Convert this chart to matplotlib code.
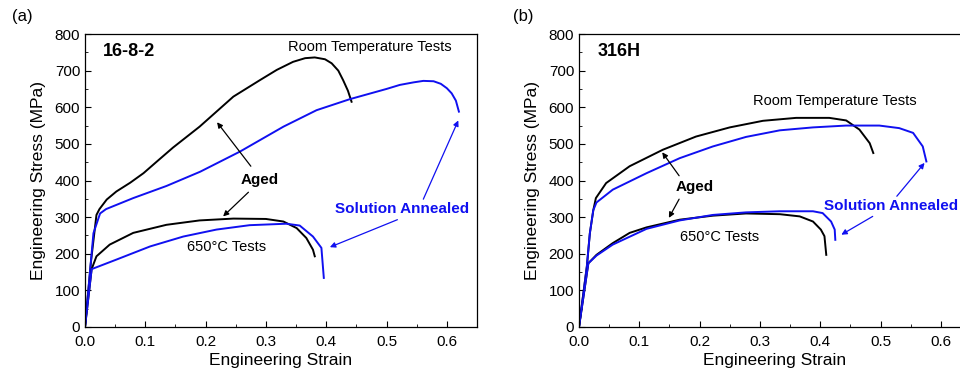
import numpy as np
import matplotlib.pyplot as plt

plt.rcParams['font.family'] = ['Liberation Sans', 'DejaVu Sans']

BLUE = '#1010f0'

# ---- panel (a) 16-8-2 ----
a_rt_aged_x = [0.0, 0.010, 0.019, 0.024, 0.036, 0.052, 0.075, 0.097, 0.12, 0.146, 0.19, 0.246, 0.29, 0.318, 0.345, 0.365, 0.381, 0.398, 0.409, 0.420, 0.428, 0.436, 0.442]
a_rt_aged_y = [0, 180, 306, 322, 348, 370, 394, 420, 453, 490, 547, 629, 674, 702, 724, 734, 736, 731, 720, 700, 674, 645, 615]
a_rt_sa_x = [0.0, 0.014, 0.025, 0.035, 0.080, 0.135, 0.191, 0.257, 0.329, 0.384, 0.439, 0.50, 0.522, 0.545, 0.561, 0.578, 0.590, 0.600, 0.608, 0.615, 0.62]
a_rt_sa_y = [0, 256, 310, 322, 352, 385, 424, 479, 547, 592, 622, 650, 661, 668, 672, 671, 664, 652, 638, 618, 588]
a_ht_aged_x = [0.0, 0.011, 0.019, 0.041, 0.080, 0.135, 0.19, 0.246, 0.30, 0.329, 0.351, 0.367, 0.378, 0.381]
a_ht_aged_y = [0, 158, 193, 225, 257, 279, 291, 296, 295, 288, 270, 243, 211, 193]
a_ht_sa_x = [0.0, 0.011, 0.052, 0.108, 0.163, 0.218, 0.273, 0.334, 0.356, 0.378, 0.392, 0.394, 0.396]
a_ht_sa_y = [0, 158, 184, 220, 247, 266, 278, 282, 277, 247, 216, 175, 134]

# ---- panel (b) 316H ----
b_rt_aged_x = [0.0, 0.013, 0.018, 0.0237, 0.028, 0.045, 0.084, 0.139, 0.194, 0.25, 0.305, 0.36, 0.415, 0.443, 0.465, 0.482, 0.488]
b_rt_aged_y = [0, 165, 256, 319, 352, 393, 439, 484, 520, 545, 563, 571, 571, 564, 539, 502, 475]
b_rt_sa_x = [0.0, 0.013, 0.018, 0.0237, 0.029, 0.056, 0.112, 0.167, 0.222, 0.277, 0.333, 0.388, 0.443, 0.498, 0.531, 0.554, 0.57, 0.576]
b_rt_sa_y = [0, 165, 256, 319, 340, 375, 420, 461, 493, 519, 537, 545, 550, 550, 543, 530, 493, 452]
b_ht_aged_x = [0.0, 0.0155, 0.029, 0.056, 0.084, 0.112, 0.167, 0.222, 0.277, 0.333, 0.366, 0.388, 0.401, 0.407, 0.41]
b_ht_aged_y = [0, 174, 197, 229, 257, 272, 293, 304, 310, 308, 302, 288, 266, 248, 197]
b_ht_sa_x = [0.0, 0.0155, 0.029, 0.056, 0.112, 0.167, 0.222, 0.277, 0.333, 0.388, 0.404, 0.418, 0.424, 0.425]
b_ht_sa_y = [0, 174, 195, 225, 268, 291, 306, 313, 316, 316, 311, 288, 266, 238]

xticks = [0.0, 0.1, 0.2, 0.3, 0.4, 0.5, 0.6]
yticks = [0, 100, 200, 300, 400, 500, 600, 700, 800]

fig = plt.figure(figsize=(9.6, 3.76), dpi=100)
axa = fig.add_axes([85/960, 49/376, 392/960, 293/376])
axb = fig.add_axes([579/960, 49/376, 392/960, 293/376])


def setup(ax):
    ax.set_xlim(0, 0.65)
    ax.set_ylim(0, 800)
    ax.set_xticks(xticks)
    ax.set_xticklabels(['%.1f' % t for t in xticks])
    ax.set_yticks(yticks)
    ax.set_xticks(np.arange(0.05, 0.65, 0.1), minor=True)
    ax.set_yticks(np.arange(50, 800, 100), minor=True)
    ax.tick_params(which='both', direction='in', top=False, right=False, labelsize=11)
    ax.tick_params(axis='x', pad=6)
    ax.tick_params(which='major', length=4.5)
    ax.tick_params(which='minor', length=2.5)
    ax.set_xlabel('Engineering Strain', fontsize=12.5, labelpad=3)
    ax.set_ylabel('Engineering Stress (MPa)', fontsize=12.5, labelpad=6)
    for s in ax.spines.values():
        s.set_linewidth(0.9)


def arrow(ax, start, end, color='black'):
    ax.annotate('', xy=end, xytext=start,
                arrowprops=dict(arrowstyle='-|>', color=color, lw=0.9,
                                mutation_scale=8, shrinkA=0, shrinkB=0))


for ax in (axa, axb):
    setup(ax)

axa.plot(a_rt_aged_x, a_rt_aged_y, color='black', lw=1.4)
axa.plot(a_rt_sa_x, a_rt_sa_y, color=BLUE, lw=1.4)
axa.plot(a_ht_aged_x, a_ht_aged_y, color='black', lw=1.4)
axa.plot(a_ht_sa_x, a_ht_sa_y, color=BLUE, lw=1.4)

axa.text(0.03, 752, '16-8-2', fontsize=13, fontweight='bold', va='center')
axa.text(0.472, 765, 'Room Temperature Tests', fontsize=10.5, ha='center', va='center')
axa.text(0.289, 401, 'Aged', fontsize=11, fontweight='bold', ha='center', va='center')
axa.text(0.235, 218, '650\u00b0C Tests', fontsize=10.5, ha='center', va='center')
axa.text(0.526, 322, 'Solution Annealed', fontsize=11, fontweight='bold', color=BLUE, ha='center', va='center')
arrow(axa, (0.275, 439), (0.219, 559))
arrow(axa, (0.271, 368), (0.229, 302))
arrow(axa, (0.561, 349), (0.619, 564), BLUE)
arrow(axa, (0.518, 293), (0.406, 218), BLUE)

axb.plot(b_rt_aged_x, b_rt_aged_y, color='black', lw=1.4)
axb.plot(b_rt_sa_x, b_rt_sa_y, color=BLUE, lw=1.4)
axb.plot(b_ht_aged_x, b_ht_aged_y, color='black', lw=1.4)
axb.plot(b_ht_sa_x, b_ht_sa_y, color=BLUE, lw=1.4)

axb.text(0.031, 752, '316H', fontsize=13, fontweight='bold', va='center')
axb.text(0.424, 616, 'Room Temperature Tests', fontsize=10.5, ha='center', va='center')
axb.text(0.191, 381, 'Aged', fontsize=11, fontweight='bold', ha='center', va='center')
axb.text(0.233, 247, '650\u00b0C Tests', fontsize=10.5, ha='center', va='center')
axb.text(0.518, 331, 'Solution Annealed', fontsize=11, fontweight='bold', color=BLUE, ha='center', va='center')
arrow(axb, (0.166, 413), (0.138, 477))
arrow(axb, (0.166, 349), (0.149, 298))
arrow(axb, (0.527, 357), (0.573, 448), BLUE)
arrow(axb, (0.487, 302), (0.435, 252), BLUE)

fig.text(12/960, 1 - 17/376, '(a)', fontsize=12, va='center')
fig.text(513/960, 1 - 17/376, '(b)', fontsize=12, va='center')

fig.savefig('out.png', dpi=100)
